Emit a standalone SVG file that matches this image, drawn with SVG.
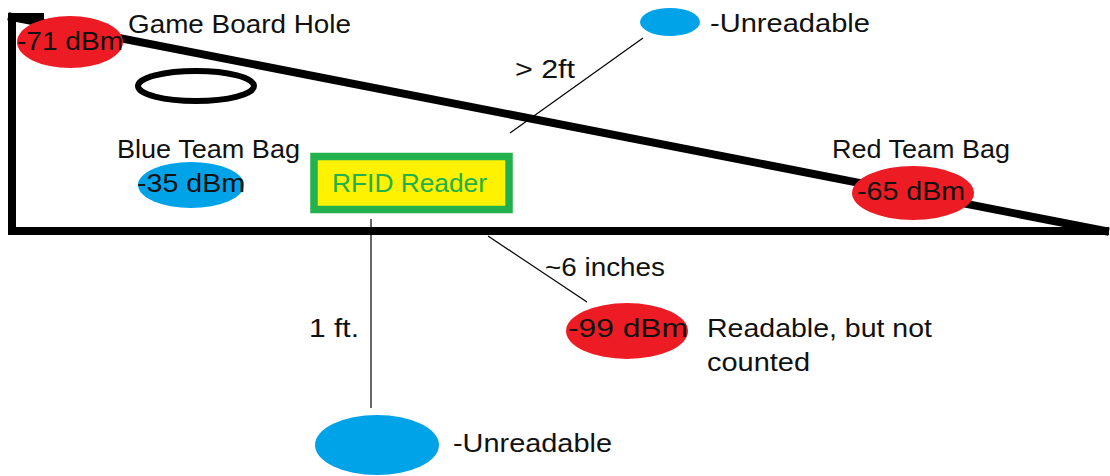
<svg xmlns="http://www.w3.org/2000/svg" width="1110" height="476" viewBox="0 0 1110 476">
<style>
.t{font-family:"Liberation Sans",Arial,sans-serif;font-size:26px;fill:#111}
.board{stroke:#000;stroke-width:8;fill:none;stroke-linecap:square}
.thin{stroke:#000;stroke-width:1.2;fill:none}
.red{fill:#ED1C24}
.blue{fill:#00A2E8}
</style>
<rect width="1110" height="476" fill="#fff"/>
<g id="connectors">
<line class="thin" x1="643" y1="38" x2="510" y2="133"/>
<line class="thin" x1="488" y1="236" x2="587" y2="302"/>
<line class="thin" x1="371" y1="219" x2="371" y2="408"/>
</g>
<g id="board">
<polyline class="board" points="1105,231 12,231 12,17 40,17"/>
<line class="board" x1="12" y1="17" x2="1105" y2="231"/>
</g>
<g id="hole">
<ellipse cx="196" cy="86" rx="58" ry="15" fill="none" stroke="#000" stroke-width="6"/>
<text class="t" x="128" y="33" textLength="223" lengthAdjust="spacingAndGlyphs">Game Board Hole</text>
</g>
<g id="tag-hole">
<ellipse class="red" cx="70" cy="42" rx="53" ry="26"/>
<text class="t" x="17" y="50" textLength="106" lengthAdjust="spacingAndGlyphs">-71 dBm</text>
</g>
<g id="tag-top">
<ellipse class="blue" cx="670" cy="22" rx="30" ry="14"/>
<text class="t" x="710" y="32" textLength="160" lengthAdjust="spacingAndGlyphs">-Unreadable</text>
</g>
<g id="label-2ft">
<text class="t" x="515" y="78" textLength="60" lengthAdjust="spacingAndGlyphs">&gt; 2ft</text>
</g>
<g id="blue-bag">
<text class="t" x="117" y="158" textLength="183" lengthAdjust="spacingAndGlyphs">Blue Team Bag</text>
<ellipse class="blue" cx="191" cy="185" rx="53" ry="23"/>
<text class="t" x="137" y="192" textLength="108" lengthAdjust="spacingAndGlyphs">-35 dBm</text>
</g>
<g id="rfid-reader">
<rect x="314" y="156.5" width="195" height="53" fill="#FFF200" stroke="#22B14C" stroke-width="7.5"/>
<text class="t" x="332" y="192" textLength="155" lengthAdjust="spacingAndGlyphs" style="fill:#22B14C">RFID Reader</text>
</g>
<g id="red-bag">
<text class="t" x="832" y="158" textLength="178" lengthAdjust="spacingAndGlyphs">Red Team Bag</text>
<ellipse class="red" cx="913" cy="193" rx="61" ry="27"/>
<text class="t" x="857" y="200" textLength="108" lengthAdjust="spacingAndGlyphs">-65 dBm</text>
</g>
<g id="label-6in">
<text class="t" x="545" y="276" textLength="120" lengthAdjust="spacingAndGlyphs">~6 inches</text>
</g>
<g id="tag-6in">
<ellipse class="red" cx="627" cy="331" rx="61" ry="28"/>
<text class="t" x="568" y="337" textLength="120" lengthAdjust="spacingAndGlyphs">-99 dBm</text>
<text class="t" x="707" y="337" textLength="225" lengthAdjust="spacingAndGlyphs">Readable, but not</text>
<text class="t" x="707" y="371" textLength="103" lengthAdjust="spacingAndGlyphs">counted</text>
</g>
<g id="label-1ft">
<text class="t" x="309" y="337" textLength="50" lengthAdjust="spacingAndGlyphs">1 ft.</text>
</g>
<g id="tag-1ft">
<ellipse class="blue" cx="377" cy="445" rx="62" ry="30"/>
<text class="t" x="453" y="452" textLength="159" lengthAdjust="spacingAndGlyphs">-Unreadable</text>
</g>
</svg>
